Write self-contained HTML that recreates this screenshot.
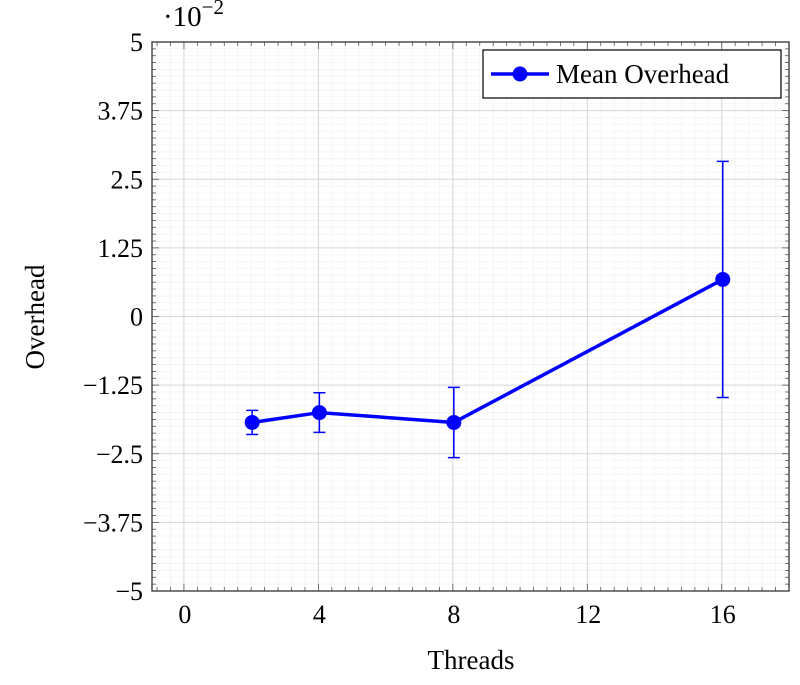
<!DOCTYPE html>
<html><head><meta charset="utf-8"><style>
body{margin:0;background:#fff;}
svg text{font-family:"Liberation Serif",serif;fill:#000;}
</style></head><body>
<svg id="chart" width="800" height="680" viewBox="0 0 800 680"></svg>
<script>
const threads=[2,4,8,16];
const overhead=[-1.93,-1.75,-1.93,0.675];
const errorVals=[0.22,0.36,0.64,2.15];
const xTicks=[0,4,8,12,16];
const yTicks=[-5,-3.75,-2.5,-1.25,0,1.25,2.5,3.75,5];
const yTickLabels=["\u22125","\u22123.75","\u22122.5","\u22121.25","0","1.25","2.5","3.75","5"];

const L=152,R=789,T=42,B=591;
const xMin=-0.95,xMax=18,yMin=-5,yMax=5;
const sx=v=>L+(v-xMin)/(xMax-xMin)*(R-L);
const sy=v=>B-(v-yMin)/(yMax-yMin)*(B-T);
const svg=document.getElementById('chart');
const NS='http://www.w3.org/2000/svg';
function mk(tag,attrs,parent){const e=document.createElementNS(NS,tag);for(const k in attrs)e.setAttribute(k,attrs[k]);(parent||svg).appendChild(e);return e;}

const g=mk('g',{});


for(let i=0;i<4;i++){for(let j=1;j<10;j++){const v=xTicks[i]+j*0.4;const x=sx(v);mk('line',{x1:x,x2:x,y1:T,y2:B,stroke:'#f3f3f3','stroke-width':0.8},g);}}
for(let v=-0.4;v>xMin;v-=0.4){const x=sx(v);mk('line',{x1:x,x2:x,y1:T,y2:B,stroke:'#f3f3f3','stroke-width':0.8},g);}
for(let v=16.4;v<xMax;v+=0.4){const x=sx(v);mk('line',{x1:x,x2:x,y1:T,y2:B,stroke:'#f3f3f3','stroke-width':0.8},g);}
for(let i=0;i<yTicks.length-1;i++){for(let j=1;j<10;j++){const y=sy(yTicks[i]+j*0.125);mk('line',{x1:L,x2:R,y1:y,y2:y,stroke:'#f3f3f3','stroke-width':0.8},g);}}
xTicks.forEach(v=>{const x=sx(v);mk('line',{x1:x,x2:x,y1:T,y2:B,stroke:'#d6d6d6','stroke-width':1},g);});
yTicks.forEach(v=>{const y=sy(v);mk('line',{x1:L,x2:R,y1:y,y2:y,stroke:'#d6d6d6','stroke-width':1},g);});

const tk=mk('g',{stroke:'#555','stroke-width':0.8});


for(let v=-0.8;v<xMax;v+=0.4){const x=sx(Math.round(v*10)/10);const major=Math.abs(Math.round(v*10)%40)===0;const len=major?7:4;mk('line',{x1:x,x2:x,y1:B,y2:B-len},tk);mk('line',{x1:x,x2:x,y1:T,y2:T+len},tk);}
for(let v=-5;v<=5.0001;v+=0.125){const y=sy(v);const major=Math.abs(Math.round(v*1000)%1250)===0;const len=major?7:4;mk('line',{x1:L,x2:L+len,y1:y,y2:y},tk);mk('line',{x1:R,x2:R-len,y1:y,y2:y},tk);}

const fr=mk('rect',{x:L,y:T,width:R-L,height:B-T,fill:'none',stroke:'#333','stroke-width':1.3});



xTicks.forEach(v=>{const t=mk('text',{x:sx(v)+1,y:623,'font-size':26,'text-anchor':'middle'});t.textContent=v;

});
yTicks.forEach((v,i)=>{const t=mk('text',{x:143,y:sy(v)+9,'font-size':26,'text-anchor':'end'});t.textContent=yTickLabels[i];

});

const s=mk('g',{});


threads.forEach((v,i)=>{const x=sx(v)+1,y1=sy(overhead[i]+errorVals[i]),y2=sy(overhead[i]-errorVals[i]);
const e=mk('path',{d:`M${x},${y1}V${y2}M${x-6},${y1}H${x+6}M${x-6},${y2}H${x+6}`,stroke:'#0000ff','stroke-width':1.5,fill:'none'},s);

});
const line=mk('polyline',{points:threads.map((v,i)=>(sx(v)+1)+','+sy(overhead[i])).join(' '),fill:'none',stroke:'#0000ff','stroke-width':3.5},s);


threads.forEach((v,i)=>{const c=mk('circle',{cx:sx(v)+1,cy:sy(overhead[i]),r:7.5,fill:'#0000ff'},s);

});

const lg=mk('g',{});


mk('rect',{x:483,y:50,width:298,height:48,fill:'#fff',stroke:'#000','stroke-width':1.2},lg);
mk('line',{x1:491,x2:549,y1:74,y2:74,stroke:'#0000ff','stroke-width':3.5},lg);
mk('circle',{cx:520,cy:74,r:7.5,fill:'#0000ff'},lg);
const lt=mk('text',{x:556,y:83,'font-size':27},lg);lt.textContent='Mean Overhead';

const xt=mk('text',{x:471,y:669,'font-size':27,'text-anchor':'middle'});xt.textContent='Threads';


const yt=mk('text',{x:0,y:0,'font-size':27,'text-anchor':'middle',transform:'translate(44,317) rotate(-90)'});yt.textContent='Overhead';


const sc=mk('text',{x:163,y:26,'font-size':29});sc.innerHTML='·10<tspan dy="-12" font-size="21">\u22122</tspan>';


</script>
</body></html>
